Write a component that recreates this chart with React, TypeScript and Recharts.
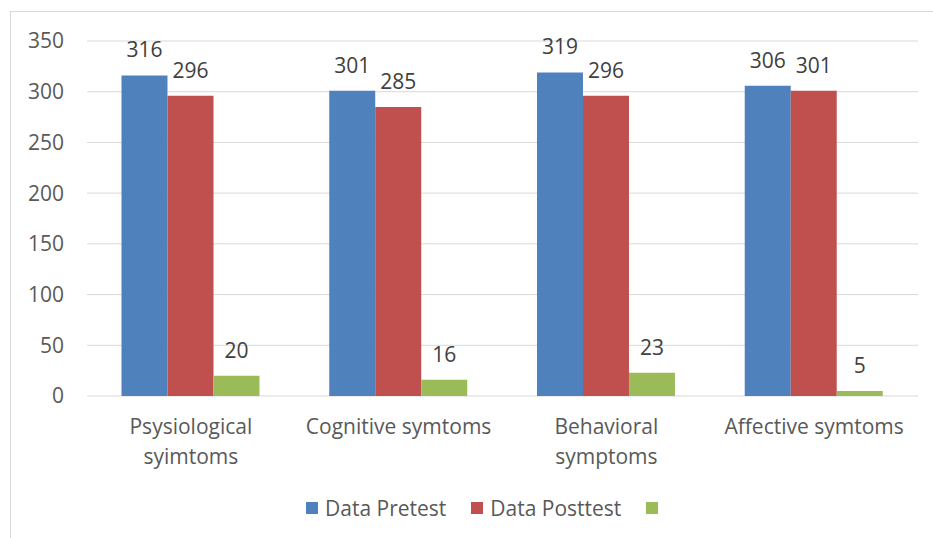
import React from 'react';
import { BarChart, Bar, XAxis, YAxis, CartesianGrid, Legend, LabelList } from 'recharts';

const categories = ['Psysiological\nsyimtoms', 'Cognitive symtoms', 'Behavioral\nsymptoms', 'Affective symtoms'];
const pretest = [316, 301, 319, 306];
const posttest = [296, 285, 296, 301];
const third = [20, 16, 23, 5];
const yTicks = [0, 50, 100, 150, 200, 250, 300, 350];
const seriesOrder = ['pretest', 'posttest', 'third'];

const data = categories.map((name, i) => ({
  name,
  pretest: pretest[i],
  posttest: posttest[i],
  third: third[i],
}));

const FONT = '"Open Sans", "Noto Sans", sans-serif';

const CategoryTick = (props: any) => {
  const { x, y, payload } = props;
  const lines = String(payload.value).split('\n');
  return (
    <text x={x} y={y} textAnchor="middle" fill="#595959" fontSize={21} fontFamily={FONT}>
      {lines.map((line, i) => (
        <tspan key={i} x={x} dy={i === 0 ? 38 : 30}>
          {line}
        </tspan>
      ))}
    </text>
  );
};

const LegendContent = (props: any) => {
  const payload = [...(props.payload || [])].sort(
    (a: any, b: any) => seriesOrder.indexOf(a.dataKey) - seriesOrder.indexOf(b.dataKey)
  );
  return (
    <div style={{ display: 'flex', alignItems: 'center', marginLeft: 306, fontFamily: FONT, fontSize: 21, color: '#595959', height: 24 }}>
      {payload.map((entry: any, i: number) => (
        <div key={i} style={{ display: 'flex', alignItems: 'center', marginRight: 25 }}>
          <span style={{ display: 'inline-block', width: 12, height: 12, background: entry.color, marginRight: entry.value ? 7 : 0 }} />
          {entry.value ? <span>{entry.value}</span> : null}
        </div>
      ))}
    </div>
  );
};

export default function App() {
  return (
    <div style={{ position: 'absolute', left: 0, top: 0, width: 933, height: 538, overflow: 'hidden', background: '#fff' }}>
      <div style={{ position: 'absolute', left: 10, top: 11, width: 940, height: 526, border: '1px solid #d9d9d9' }} />
      <div style={{ position: 'absolute', left: 0, top: 0 }}>
        <BarChart
          width={933}
          height={538}
          data={data}
          margin={{ top: 41, right: 15, left: 0, bottom: 48 }}
          barCategoryGap="16.6%"
          barGap={0}
        >
          <CartesianGrid vertical={false} stroke="#d9d9d9" />
          <XAxis
            dataKey="name"
            axisLine={false}
            tickLine={false}
            tickSize={0}
            tickMargin={0}
            height={70}
            interval={0}
            tick={<CategoryTick />}
          />
          <YAxis
            domain={[0, 350]}
            ticks={yTicks}
            width={87}
            axisLine={false}
            tickLine={false}
            tickSize={0}
            tickMargin={23}
            tick={{ fill: '#595959', fontSize: 21, fontFamily: FONT }}
          />
          <Legend verticalAlign="bottom" wrapperStyle={{ left: 0, width: 933, bottom: 18 }} content={<LegendContent />} />
          <Bar dataKey="pretest" name="Data Pretest" fill="#4F81BD" isAnimationActive={false}>
            <LabelList dataKey="pretest" position="top" offset={18} fill="#404040" fontSize={21} fontFamily={FONT} />
          </Bar>
          <Bar dataKey="posttest" name="Data Posttest" fill="#C0504D" isAnimationActive={false}>
            <LabelList dataKey="posttest" position="top" offset={18} fill="#404040" fontSize={21} fontFamily={FONT} />
          </Bar>
          <Bar dataKey="third" name="" fill="#9BBB59" isAnimationActive={false}>
            <LabelList dataKey="third" position="top" offset={18} fill="#404040" fontSize={21} fontFamily={FONT} />
          </Bar>
        </BarChart>
      </div>
    </div>
  );
}
